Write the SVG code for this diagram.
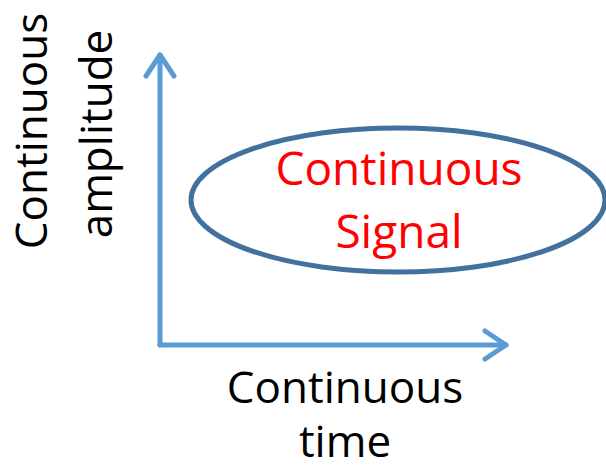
<svg xmlns="http://www.w3.org/2000/svg" width="606" height="470" viewBox="0 0 606 470">
<style>
.ax{fill:none;stroke:#5B9BD5;stroke-width:5;stroke-linecap:round;stroke-linejoin:round}
.t{font-family:"Open Sans","Liberation Sans",sans-serif;font-size:46px;text-anchor:middle}
.b{font-size:44px;fill:#000}
</style>
<rect width="606" height="470" fill="#fff"/>
<g id="connectors">
<path class="ax" d="M160 345 V55"/>
<path class="ax" d="M146 76 L160 55 L174 76"/>
<path class="ax" d="M160 345 H506"/>
<path class="ax" d="M485 331 L506 345 L485 359"/>
</g>
<g id="signal">
<ellipse cx="398" cy="200" rx="207" ry="72" fill="none" stroke="#41719C" stroke-width="5"/>
<text class="t" fill="#FF0000" x="399" y="185">Continuous</text>
<text class="t" fill="#FF0000" x="399" y="248">Signal</text>
</g>
<g id="amplitude-label">
<text class="t b" transform="translate(47 131) rotate(-90)">Continuous</text>
<text class="t b" transform="translate(112 134) rotate(-90)">amplitude</text>
</g>
<g id="time-label">
<text class="t b" x="345" y="403">Continuous</text>
<text class="t b" x="345" y="457">time</text>
</g>
</svg>
